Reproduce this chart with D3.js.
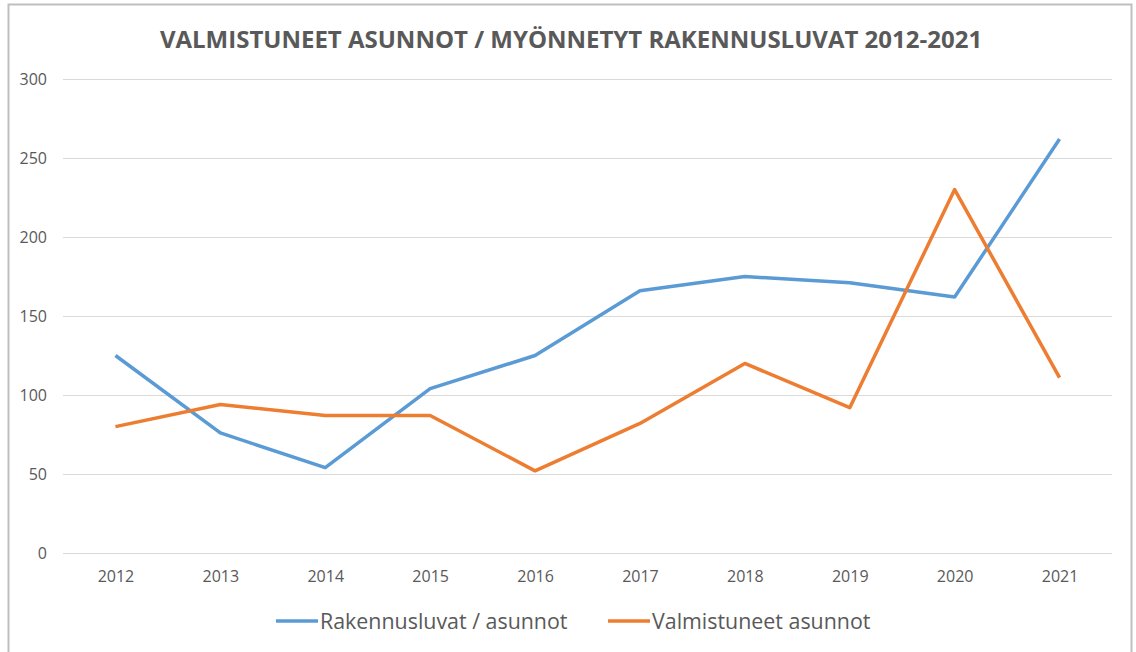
<!DOCTYPE html>
<html>
<head>
<meta charset="utf-8">
<script src="https://cdn.jsdelivr.net/npm/d3@7"></script>
<style>
  body { margin: 0; background: #fff; font-family: "Open Sans", "Noto Sans", sans-serif; }
  .grid line { stroke: #d9d9d9; stroke-width: 1; }
  .tick text { fill: #595959; }
</style>
</head>
<body>
<svg id="chart" width="1136" height="652"></svg>
<script>
  // vuodet ja sarjat
  const years = ["2012", "2013", "2014", "2015", "2016", "2017", "2018", "2019", "2020", "2021"];
  const rakennusluvat = [125, 76, 54, 104, 125, 166, 175, 171, 162, 262];
  const valmistuneet = [80, 94, 87, 87, 52, 82, 120, 92, 230, 111];
  const yTicks = [0, 50, 100, 150, 200, 250, 300];
  const seriesNames = ["Rakennusluvat / asunnot", "Valmistuneet asunnot"];
  const colors = ["#5b9bd5", "#ed7d31"];

  const svg = d3.select("#chart");

  // kehys
  svg.append("rect")
    .attr("x", 8.5).attr("y", 4.5)
    .attr("width", 1123).attr("height", 660)
    .attr("fill", "#fff").attr("stroke", "#bfbfbf").attr("stroke-width", 2);

  svg.append("text")
    .attr("x", 571).attr("y", 48)
    .attr("text-anchor", "middle")
    .attr("font-size", 24).attr("font-weight", "bold")
    .attr("fill", "#595959")
    .text("VALMISTUNEET ASUNNOT / MYÖNNETYT RAKENNUSLUVAT 2012-2021");

  const x = d3.scalePoint().domain(years).range([63, 1112]).padding(0.5);
  const y = d3.scaleLinear().domain([0, 300]).range([553, 79]);

  // ruudukko
  svg.append("g").attr("class", "grid")
    .selectAll("line").data(yTicks).join("line")
    .attr("x1", 63).attr("x2", 1112)
    .attr("y1", d => y(d) + 0.5).attr("y2", d => y(d) + 0.5);

  const yAxis = svg.append("g")
    .attr("transform", "translate(47,0)")
    .call(d3.axisLeft(y).tickValues(yTicks).tickSize(0).tickPadding(0));
  yAxis.select(".domain").remove();
  yAxis.selectAll("text").attr("font-size", 16).attr("font-family", "Open Sans");

  const xAxis = svg.append("g")
    .attr("transform", "translate(0,571)")
    .call(d3.axisBottom(x).tickSize(0).tickPadding(0));
  xAxis.select(".domain").remove();
  xAxis.selectAll("text").attr("font-size", 16).attr("font-family", "Open Sans");

  const line = d3.line().x((d, i) => x(years[i])).y(d => y(d));

  [rakennusluvat, valmistuneet].forEach((s, k) => {
    svg.append("path")
      .datum(s)
      .attr("d", line)
      .attr("fill", "none")
      .attr("stroke", colors[k])
      .attr("stroke-width", 3.5)
      .attr("stroke-linejoin", "round");
  });

  // selite
  const legendX = [276, 608];
  seriesNames.forEach((name, k) => {
    const g = svg.append("g").attr("transform", `translate(${legendX[k]},621)`);
    g.append("line").attr("x1", 0).attr("x2", 42)
      .attr("stroke", colors[k]).attr("stroke-width", 3.5);
    g.append("text").attr("x", 44).attr("y", 7.5)
      .attr("font-size", 21.4).attr("fill", "#595959")
      .text(name);
  });
</script>
</body>
</html>
